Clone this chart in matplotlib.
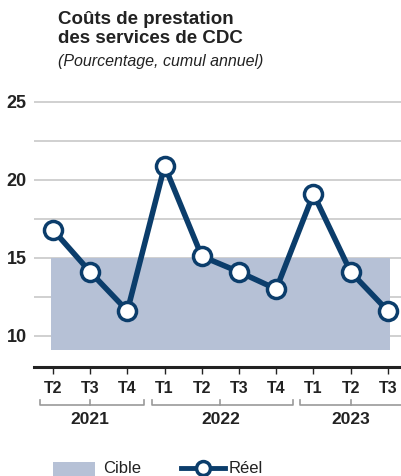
import numpy as np
import matplotlib.pyplot as plt
from matplotlib.patches import Rectangle
from matplotlib.lines import Line2D
from matplotlib.transforms import blended_transform_factory

plt.rcParams["font.family"] = ["Liberation Sans", "DejaVu Sans"]

# data
quarters = ["T2", "T3", "T4", "T1", "T2", "T3", "T4", "T1", "T2", "T3"]
reel = [16.8, 14.1, 11.6, 20.9, 15.1, 14.1, 13.0, 19.1, 14.1, 11.6]
years = ["2021", "2022", "2023"]
year_spans = [(0, 2), (3, 6), (7, 9)]
cible_low, cible_high = 9.1, 15.0
yticks = [10, 15, 20, 25]

dark = "#0b3d6b"
band = "#b6c1d6"
txt = "#222222"

fig = plt.figure(figsize=(4.02, 4.76), dpi=100)
ax = fig.add_axes([34 / 402, 1 - 367 / 476, 1 - 34 / 402, (367 - 86.4) / 476])

x = np.arange(len(reel))
ax.set_xlim(-0.51, 9.38)
ax.set_ylim(8, 26)

ax.add_patch(Rectangle((-0.05, cible_low), len(reel) - 0.9, cible_high - cible_low,
                       facecolor=band, edgecolor="none", zorder=1))

for g in np.arange(10, 25.1, 2.5):
    ax.axhline(g, color="#c8c8c8", lw=1.2, zorder=0)

ax.plot(x, reel, color=dark, lw=4, marker="o", ms=13, mfc="white",
        mec=dark, mew=2.5, zorder=3, clip_on=False)

for s in ["top", "right", "left"]:
    ax.spines[s].set_visible(False)
ax.spines["bottom"].set_color(txt)
ax.spines["bottom"].set_linewidth(2.2)

ax.set_yticks(yticks)
ax.set_yticklabels([str(v) for v in yticks], fontsize=13, fontweight="bold",
                   color=txt)
ax.tick_params(axis="y", length=0, pad=4)
for lab in ax.get_yticklabels():
    lab.set_horizontalalignment("left")
    lab.set_x(-22 / 368)

ax.set_xticks(x)
ax.set_xticklabels(quarters, fontsize=11.5, fontweight="bold", color=txt)
ax.tick_params(axis="x", length=5, width=1, color=txt, pad=5, direction="out")

# year brackets
tr = blended_transform_factory(ax.transData, ax.transAxes)
by = -0.137
for yr, (a, b) in zip(years, year_spans):
    x0, x1 = a - 0.35, b + 0.45
    xm = (a + b) / 2
    ax.plot([x0, x0, x1, x1], [by + 0.02, by, by, by + 0.02], color="#999999",
            lw=1.2, transform=tr, clip_on=False)
    ax.plot([xm, xm], [by, by + 0.02], color="#999999", lw=1.2, transform=tr,
            clip_on=False)
    ax.text(xm, by - 0.025, yr, transform=tr, ha="center", va="top",
            fontsize=12.5, fontweight="bold", color=txt)

# title
fig.text(58 / 402, 1 - 11 / 476, "Coûts de prestation\ndes services de CDC",
         fontsize=13.5, fontweight="bold", color=txt, va="top", linespacing=1.12)
fig.text(58 / 402, 1 - 54 / 476, "(Pourcentage, cumul annuel)",
         fontsize=11.5, style="italic", color=txt, va="top")

# legend
fig.patches.append(Rectangle((53 / 402, 0), 42 / 402, 14 / 476, facecolor=band,
                             edgecolor="none", transform=fig.transFigure))
fig.text(103 / 402, 0 / 476, "Cible", fontsize=12, color=txt, va="bottom")
fig.lines.append(Line2D([181 / 402, 225 / 402], [8 / 476, 8 / 476], color=dark,
                        lw=3.5, marker=None, transform=fig.transFigure))
fig.lines.append(Line2D([203 / 402], [8 / 476], color=dark, marker="o", ms=10,
                        mfc="white", mec=dark, mew=2.5, transform=fig.transFigure))
fig.text(229 / 402, 0 / 476, "Réel", fontsize=12, color=txt, va="bottom")

fig.savefig("out.png", dpi=100)
